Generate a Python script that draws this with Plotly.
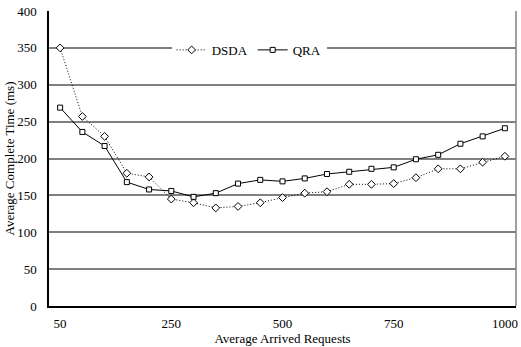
import plotly.graph_objects as go

requests = ["50", "90", "130", "170", "210", "250", "300", "350", "400", "450", "500",
            "550", "600", "650", "700", "750", "800", "850", "900", "950", "1000"]
dsda = [350, 257, 230, 180, 175, 145, 140, 133, 135, 140, 147,
        153, 155, 165, 165, 166, 174, 186, 186, 195, 203]
qra = [269, 236, 217, 168, 158, 156, 148, 153, 166, 171, 169,
       173, 179, 182, 186, 188, 199, 205, 220, 230, 241]
x_ticks = ["50", "250", "500", "750", "1000"]
y_ticks = [0, 50, 100, 150, 200, 250, 300, 350, 400]

font = dict(family="Liberation Serif, Times New Roman, serif", size=13, color="black")

fig = go.Figure()
fig.add_trace(go.Scatter(
    x=requests, y=dsda, name="DSDA", mode="lines+markers",
    line=dict(color="black", width=1, dash="1px,2px"),
    marker=dict(symbol="diamond", size=6, color="white", line=dict(color="black", width=1)),
))
fig.add_trace(go.Scatter(
    x=requests, y=qra, name="QRA", mode="lines+markers",
    line=dict(color="black", width=1),
    marker=dict(symbol="square", size=5, color="white", line=dict(color="black", width=1)),
))

fig.update_layout(
    width=521, height=347,
    margin=dict(l=49, r=3, t=11, b=41),
    paper_bgcolor="white", plot_bgcolor="white",
    font=font,
    showlegend=True,
    legend=dict(orientation="h", x=0.4286, y=0.868, xanchor="center", yanchor="middle",
                bgcolor="white", font=font, itemwidth=30, tracegroupgap=0),
)
fig.update_xaxes(
    type="category", range=[-0.5, 20.5],
    tickmode="array", tickvals=x_ticks, ticktext=x_ticks,
    showgrid=False, showline=True, linecolor="black", linewidth=1.5,
    ticks="", tickfont=font, ticklabelstandoff=5,
    title=dict(text="Average Arrived Requests", font=font, standoff=2),
)
fig.update_yaxes(
    range=[0, 400], tickmode="array", tickvals=y_ticks,
    showgrid=True, gridcolor="#808080", gridwidth=1.8,
    showline=True, linecolor="black", linewidth=1.5,
    ticks="", zeroline=False, tickfont=font, ticklabelstandoff=8,
    title=dict(text="Average Complete Time (ms)", font=font, standoff=0),
)
fig.add_shape(type="line", xref="paper", yref="paper", x0=1, x1=1, y0=0, y1=1,
              line=dict(color="#808080", width=1.5))

fig.write_html("out.html")
